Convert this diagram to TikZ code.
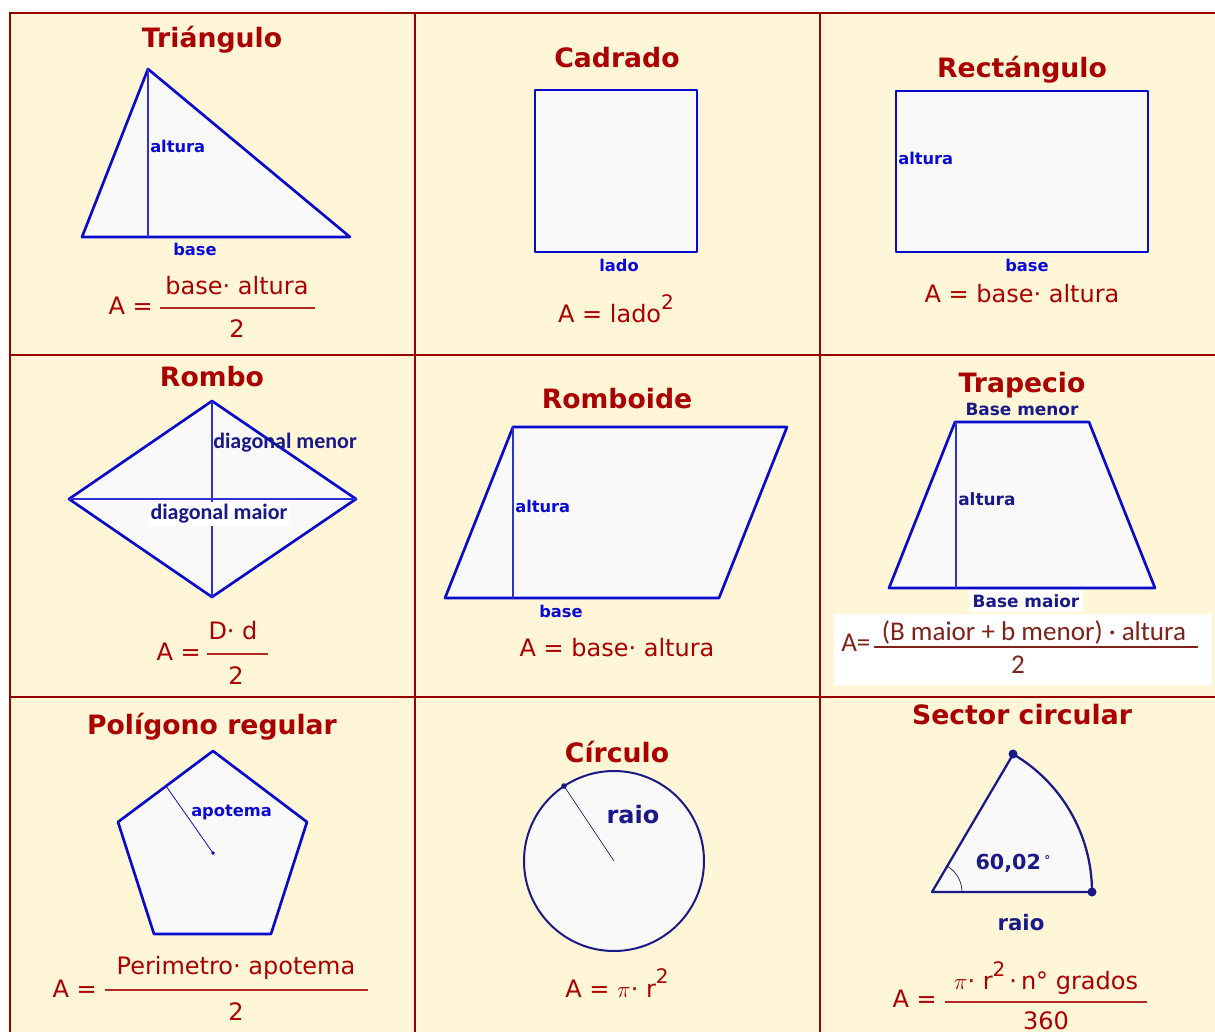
\documentclass[tikz,border=0pt]{standalone}
\usepackage{fontspec}
\setmainfont{DejaVu Sans}
\newfontfamily\calib{Carlito}
\definecolor{cream}{RGB}{255,246,216}
\definecolor{gridred}{RGB}{153,0,0}
\definecolor{titlered}{RGB}{170,0,0}
\definecolor{shapefill}{RGB}{249,249,249}
\definecolor{geoblue}{RGB}{10,10,205}
\definecolor{lblue}{RGB}{10,10,215}
\definecolor{navy}{RGB}{25,25,135}
\definecolor{brownred}{RGB}{125,35,25}
\newcommand{\sqtwo}{\raisebox{0.55em}{\fontsize{15}{15}\selectfont 2}}
\begin{document}
\begin{tikzpicture}[x=0.75pt,y=-0.75pt,
  title/.style={text=titlered,font=\bfseries\fontsize{20}{21}\selectfont,inner sep=0},
  lbl/.style={text=lblue,font=\bfseries\fontsize{12.2}{13}\selectfont,inner sep=0},
  nlbl/.style={text=navy,font=\bfseries\fontsize{12.7}{13}\selectfont,inner sep=0},
  clbl/.style={text=navy,font=\calib\bfseries\fontsize{16.5}{17}\selectfont,inner sep=0},
  formula/.style={text=titlered,font=\fontsize{18}{19}\selectfont,inner sep=0},
  cformula/.style={text=brownred,font=\calib\fontsize{20.3}{21}\selectfont,inner sep=0},
  geoshape/.style={draw=geoblue,fill=shapefill,line width=2pt,line join=round},
  hgt/.style={draw=geoblue!85!white,line width=1pt},
  fracline/.style={draw=titlered!85!white,line width=0.8pt},
  gridline/.style={draw=gridred,line width=1.5pt}]

\useasboundingbox (0,0) rectangle (1215,1032);
\fill[white] (0,0) rectangle (1215,1032);
\fill[cream] (10,13) rectangle (1215,1032);

% grid
\draw[gridline] (10,1032) -- (10,13) -- (1215,13);
\draw[gridline] (10,355) -- (1215,355);
\draw[gridline] (10,697) -- (1215,697);
\draw[gridline] (415,13) -- (415,1032);
\draw[gridline] (820,13) -- (820,1032);

% ---------- Triangulo
\node[title] (t1) at (212,40) {Triángulo};
\coordinate (A1) at (82,237);
\coordinate (B1) at (350,237);
\coordinate (C1) at (148,69);
\coordinate (H1) at (148,237);
\draw[geoshape] (A1) -- (B1) -- (C1) -- cycle;
\draw[hgt] (C1) -- (H1);
\node[lbl,anchor=west] (l1a) at (150,146) {altura};
\node[lbl] (l1b) at (195,249) {base};
\node[formula,anchor=east] (f1a) at (153,306) {A =};
\node[formula] (f1n) at (237,286) {base· altura};
\node[formula] (f1d) at (237,329) {2};
\draw[fracline] (160,308) -- (315,308);

% ---------- Cadrado
\node[title] (t2) at (617,58) {Cadrado};
\draw[geoshape] (535,90) rectangle (697,252);
\node[lbl] (l2) at (619,265) {lado};
\node[formula] (f2) at (616,309) {A = lado\sqtwo};

% ---------- Rectangulo
\node[title] (t3) at (1022,70) {Rectángulo};
\draw[geoshape] (896,91) rectangle (1148,252);
\node[lbl,anchor=west] (l3a) at (898,158) {altura};
\node[lbl] (l3b) at (1027,265) {base};
\node[formula] (f3) at (1022,294) {A = base· altura};

% ---------- Rombo
\node[title] (t4) at (212,377) {Rombo};
\coordinate (L4) at (69,499);
\coordinate (T4) at (212,401);
\coordinate (R4) at (356,499);
\coordinate (B4) at (212,597);
\draw[geoshape] (L4) -- (T4) -- (R4) -- (B4) -- cycle;
\draw[hgt] (L4) -- (R4);
\draw[hgt] (T4) -- (B4);
\node[clbl,anchor=west] (l4a) at (213,443) {diagonal menor};
\node[clbl,fill=white,inner xsep=1pt,inner ysep=2pt] (l4b) at (219,514) {diagonal maior};
\node[formula,anchor=east] (f4a) at (201,652) {A =};
\node[formula] (f4n) at (233,631) {D· d};
\node[formula] (f4d) at (236,676) {2};
\draw[fracline] (207,654) -- (268,654);

% ---------- Romboide
\node[title] (t5) at (617,399) {Romboide};
\draw[geoshape] (445,598) -- (513,427) -- (787,427) -- (719,598) -- cycle;
\draw[hgt] (513,427) -- (513,598);
\node[lbl,anchor=west] (l5a) at (515,506) {altura};
\node[lbl] (l5b) at (561,611) {base};
\node[formula] (f5) at (617,648) {A = base· altura};

% ---------- Trapecio
\node[title] (t6) at (1022,385) {Trapecio};
\node[nlbl] (l6a) at (1022,409) {Base menor};
\draw[geoshape] (889,588) -- (955,422) -- (1089,422) -- (1155,588) -- cycle;
\draw[hgt] (956,422) -- (956,588);
\node[nlbl,anchor=west] (l6b) at (958,499) {altura};
\node[nlbl,fill=white,inner xsep=3pt,inner ysep=3pt] (l6c) at (1026,601) {Base maior};
\fill[white] (834,614) rectangle (1212,685);
\node[cformula,anchor=west] (f6a) at (841,643) {A=};
\node[cformula] (f6n) at (1034,632) {(B maior + b menor) · altura};
\node[cformula] (f6d) at (1018,665) {2};
\draw[draw=brownred,line width=0.8pt] (874,647) -- (1198,647);

% ---------- Poligono regular
\node[title] (t7) at (212,727) {Polígono regular};
\draw[geoshape] (213,751) -- (307,822) -- (271,934) -- (154,934) -- (118,822) -- cycle;
\coordinate (O7) at (213,853);
\coordinate (M7) at (166,786);
\draw[draw=geoblue,line width=0.6pt] (O7) -- (M7);
\fill[geoblue] (O7) circle[radius=1.8];
\node[lbl,anchor=west] (l7) at (191,812) {apotema};
\node[formula,anchor=east] (f7a) at (97,989) {A =};
\node[formula] (f7n) at (236,968) {Perimetro· apotema};
\node[formula] (f7d) at (236,1012) {2};
\draw[fracline] (105,990) -- (368,990);

% ---------- Circulo
\node[title] (t8) at (617,752) {Círculo};
\coordinate (O8) at (614,861);
\coordinate (P8) at (564,786);
\draw[draw=navy,fill=shapefill,line width=1.5pt] (O8) circle[radius=90];
\draw[draw=navy!60!black,line width=0.5pt] (O8) -- (P8);
\fill[navy] (P8) circle[radius=2.8];
\node[text=navy,font=\bfseries\fontsize{18}{19}\selectfont,inner sep=0] (l8) at (633,815) {raio};
\node[formula] (f8) at (617,983) {A = $\pi$· r\sqtwo};

% ---------- Sector circular
\node[title] (t9) at (1022,715) {Sector circular};
\coordinate (O9) at (932,892);
\coordinate (P9) at (1092,892);
\coordinate (Q9) at (1013,754);
\draw[draw=navy,fill=shapefill,line width=1.7pt,line join=round] (O9) -- (P9) arc[start angle=0,end angle=-59.5,radius=160] -- cycle;
\draw[draw=navy!70!black,line width=0.5pt] (962,892) arc[start angle=0,end angle=-59.5,radius=30];
\fill[navy] (P9) circle[radius=4.5];
\fill[navy] (Q9) circle[radius=4.5];
\node[text=navy,font=\bfseries\fontsize{15.5}{16}\selectfont,inner sep=0] (l9a) at (1013,863) {60,02\,\raisebox{0.25em}{\fontsize{9}{9}\selectfont °}};
\node[text=navy,font=\bfseries\fontsize{16}{17}\selectfont,inner sep=0] (l9b) at (1021,923) {raio};
\node[formula,anchor=east] (f9a) at (937,999) {A =};
\node[formula] (f9n) at (1046,978) {$\pi$· r\sqtwo\,·\,n° grados};
\node[formula] (f9d) at (1046,1021) {360};
\draw[fracline] (945,1002) -- (1147,1002);
\end{tikzpicture}
\end{document}
